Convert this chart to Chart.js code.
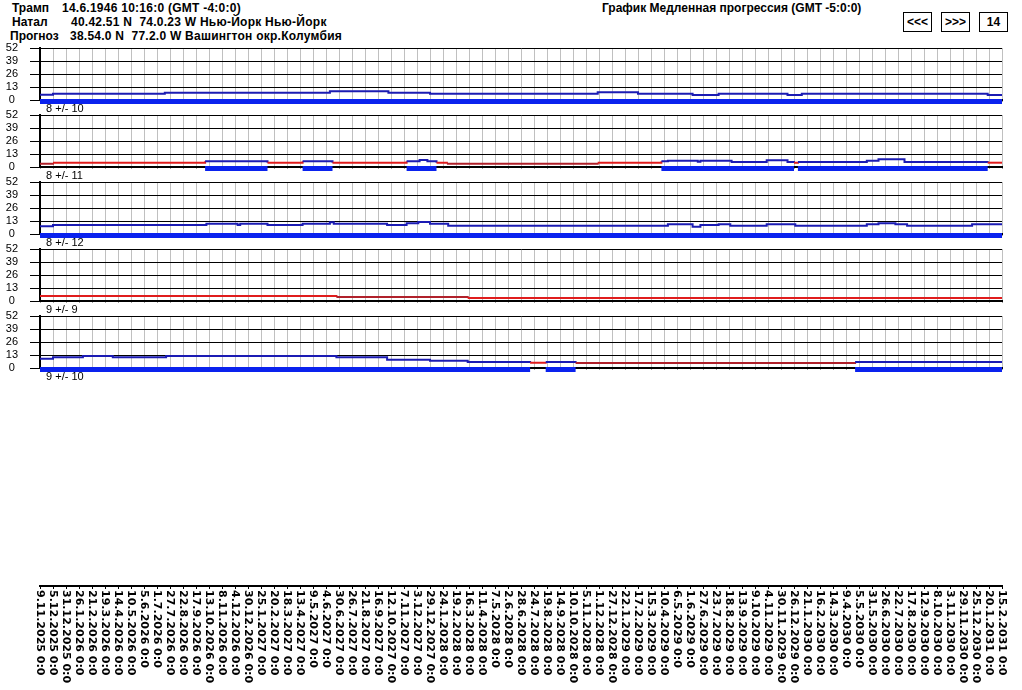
<!DOCTYPE html>
<html>
<head>
<meta charset="utf-8">
<script src="https://cdn.jsdelivr.net/npm/chart.js@4.4.1/dist/chart.umd.min.js"></script>
<style>
  body { margin: 0; background: #fff; }
  #page { position: relative; width: 1022px; height: 690px; overflow: hidden; font-family: "Liberation Sans", Arial, sans-serif; color: #000; }
  .hdr { position: absolute; font-weight: bold; font-size: 12px; line-height: 14px; white-space: pre; }
  .info { letter-spacing: 0.25px; }
  .btn { position: absolute; top: 12px; width: 27px; height: 18px; border: 1px solid #000; font-weight: bold; font-size: 12px; line-height: 18px; text-align: center; }
  canvas { position: absolute; left: 0; }
</style>
</head>
<body>
<div id="page">
  <div class="hdr" style="left:12px;top:1px">Трамп</div>
  <div class="hdr info" style="left:62px;top:1px">14.6.1946 10:16:0 (GMT -4:0:0)</div>
  <div class="hdr" style="left:12px;top:15px">Натал</div>
  <div class="hdr info" style="left:71px;top:15px">40.42.51 N  74.0.23 W Нью-Йорк Нью-Йорк</div>
  <div class="hdr" style="left:10px;top:29px">Прогноз</div>
  <div class="hdr info" style="left:70px;top:29px">38.54.0 N  77.2.0 W Вашингтон окр.Колумбия</div>
  <div class="hdr" style="left:602px;top:1px">График Медленная прогрессия (GMT -5:0:0)</div>
  <div class="btn" style="left:903px">&lt;&lt;&lt;</div>
  <div class="btn" style="left:941px">&gt;&gt;&gt;</div>
  <div class="btn" style="left:979px">14</div>
</div>
<script>
// x positions are in tick-index units (one step = 26 days, 0 = 9.11.2025)
const tickLabels = [
  '9.11.2025 0:0', '5.12.2025 0:0', '31.12.2025 0:0', '26.1.2026 0:0', '21.2.2026 0:0',
  '19.3.2026 0:0', '14.4.2026 0:0', '10.5.2026 0:0', '5.6.2026 0:0', '1.7.2026 0:0',
  '27.7.2026 0:0', '22.8.2026 0:0', '17.9.2026 0:0', '13.10.2026 0:0', '8.11.2026 0:0',
  '4.12.2026 0:0', '30.12.2026 0:0', '25.1.2027 0:0', '20.2.2027 0:0', '18.3.2027 0:0',
  '13.4.2027 0:0', '9.5.2027 0:0', '4.6.2027 0:0', '30.6.2027 0:0', '26.7.2027 0:0',
  '21.8.2027 0:0', '16.9.2027 0:0', '12.10.2027 0:0', '7.11.2027 0:0', '3.12.2027 0:0',
  '29.12.2027 0:0', '24.1.2028 0:0', '19.2.2028 0:0', '16.3.2028 0:0', '11.4.2028 0:0',
  '7.5.2028 0:0', '2.6.2028 0:0', '28.6.2028 0:0', '24.7.2028 0:0', '19.8.2028 0:0',
  '14.9.2028 0:0', '10.10.2028 0:0', '5.11.2028 0:0', '1.12.2028 0:0', '27.12.2028 0:0',
  '22.1.2029 0:0', '17.2.2029 0:0', '15.3.2029 0:0', '10.4.2029 0:0', '6.5.2029 0:0',
  '1.6.2029 0:0', '27.6.2029 0:0', '23.7.2029 0:0', '18.8.2029 0:0', '13.9.2029 0:0',
  '9.10.2029 0:0', '4.11.2029 0:0', '30.11.2029 0:0', '26.12.2029 0:0', '21.1.2030 0:0',
  '16.2.2030 0:0', '14.3.2030 0:0', '9.4.2030 0:0', '5.5.2030 0:0', '31.5.2030 0:0',
  '26.6.2030 0:0', '22.7.2030 0:0', '17.8.2030 0:0', '12.9.2030 0:0', '8.10.2030 0:0',
  '3.11.2030 0:0', '29.11.2030 0:0', '25.12.2030 0:0', '20.1.2031 0:0', '15.2.2031 0:0'
];
const yTicks = [0, 13, 26, 39, 52];
const panelTitles = ['8 +/- 10', '8 +/- 11', '8 +/- 12', '9 +/- 9', '9 +/- 10'];

// each point holds its value until the next point; state: b = blue, r = red, d = dark red
const p1X = [0, 1, 9.6, 22.3, 26.8, 30, 42.9, 46, 50.2, 52.2, 57.5, 58.6, 72.9, 74];
const p1Y = [5.3, 6.3, 7.3, 8.7, 7.3, 6.3, 7.7, 6.3, 5, 6.3, 5, 6.3, 5, 5];
const p1S = ['b', 'b', 'b', 'b', 'b', 'b', 'b', 'b', 'b', 'b', 'b', 'b', 'b', 'b'];

const p2X = [0, 1, 12.7, 17.5, 20.2, 22.5, 28.2, 29.2, 29.8, 30.5, 31.3, 42.9, 47.8, 48.3, 50.6, 50.8, 53.2, 55.9, 57.5, 58, 58.3, 63.6, 64.5, 66.5, 72.9, 74];
const p2Y = [3.3, 4.3, 5.7, 4.3, 5.7, 4.3, 5.7, 7, 5.7, 4.3, 3.3, 4.3, 5.7, 6.3, 5.3, 6.3, 5, 6.7, 5, 4.3, 5, 6.3, 7.7, 5, 4.3, 4.3];
const p2S = ['d', 'r', 'b', 'r', 'b', 'r', 'b', 'b', 'b', 'r', 'd', 'r', 'b', 'b', 'b', 'b', 'b', 'b', 'b', 'r', 'b', 'b', 'b', 'b', 'r', 'r'];

const p3X = [0, 1, 12.8, 15.2, 15.4, 17.5, 20.2, 22.3, 22.6, 26.7, 28.2, 29.1, 30, 31.4, 48.3, 50.2, 50.8, 52.2, 53.1, 55.9, 58.1, 63.6, 64.5, 65.8, 66.7, 71.7, 74];
const p3Y = [7.7, 9, 10.3, 9, 10.3, 9, 10.3, 11.7, 10.3, 9, 10.7, 12, 10.3, 8.3, 9.7, 7.3, 9, 9.7, 8.3, 9.7, 8.3, 9.7, 10.7, 9.7, 8.3, 9.7, 9.7];
const p3S = p3X.map(() => 'b');

const p4X = [0, 22.8, 32.9, 74];
const p4Y = [5, 4, 3, 3];
const p4S = ['r', 'd', 'r', 'r'];

const p5X = [0, 1, 3.3, 5.6, 9.7, 22.8, 26.7, 30, 32.9, 37.7, 38.9, 41.2, 62.7, 74];
const p5Y = [9.3, 10.7, 12, 10.7, 12, 10.7, 8.3, 7.3, 6, 5.3, 6, 5, 6, 6];
const p5S = ['b', 'b', 'b', 'b', 'b', 'b', 'b', 'b', 'b', 'r', 'b', 'd', 'b', 'b'];

const panels = [
  [p1X, p1Y, p1S], [p2X, p2Y, p2S], [p3X, p3Y, p3S], [p4X, p4Y, p4S], [p5X, p5Y, p5S]
];

const LINE_COLORS = { b: '#1b1bb3', r: '#e01c1c', d: '#b0202a' };
const BAND_COLOR = '#0a22ee';
const BAND_LEVEL = -1.5;   // thick marker just under the zero line where the state is blue
const FONT = '"Liberation Sans", Arial, sans-serif';

const page = document.getElementById('page');

function makePanel(idx, xs, ys, st) {
  const cv = document.createElement('canvas');
  cv.width = 1022;
  cv.height = 75;
  cv.style.top = (40 + 67 * idx) + 'px';
  page.appendChild(cv);

  const line = xs.map((x, i) => ({ x: x, y: ys[i] }));
  const band = xs.map(x => ({ x: x, y: BAND_LEVEL }));

  new Chart(cv, {
    type: 'line',
    data: {
      datasets: [
        {
          data: band, borderWidth: 5, borderCapStyle: 'butt', stepped: true,
          pointRadius: 0, clip: false, borderColor: BAND_COLOR,
          segment: { borderColor: c => st[c.p0DataIndex] === 'b' ? BAND_COLOR : 'rgba(0,0,0,0)' }
        },
        {
          data: line, borderWidth: 2, stepped: true, pointRadius: 0, clip: false,
          borderColor: LINE_COLORS.b,
          segment: { borderColor: c => LINE_COLORS[st[c.p0DataIndex]] }
        }
      ]
    },
    options: {
      responsive: false,
      animation: false,
      devicePixelRatio: 1,
      layout: { padding: { top: 8, right: 20, left: 0, bottom: 0 } },
      plugins: { legend: { display: false }, tooltip: { enabled: false } },
      scales: {
        x: {
          type: 'linear', min: 0, max: tickLabels.length - 1,
          ticks: { stepSize: 1, display: false },
          grid: { color: '#c0c0c0', tickLength: 2, tickColor: '#a0a0a0' },
          border: { color: '#000', width: 2 },
          title: {
            display: true, text: '  ' + panelTitles[idx], align: 'start', padding: 0, color: '#000',
            font: { family: FONT, size: 11, lineHeight: 13 / 11 }
          },
          afterFit: s => { s.height = 15; }
        },
        y: {
          min: yTicks[0], max: yTicks[yTicks.length - 1],
          afterBuildTicks: s => { s.ticks = yTicks.map(v => ({ value: v })); },
          ticks: { color: '#000', font: { family: FONT, size: 11 }, crossAlign: 'center', padding: 12, autoSkip: false },
          grid: { color: '#000', tickLength: 10 },
          border: { color: '#000', width: 2 },
          afterFit: s => { s.width = 40; s.paddingTop = 6; s.paddingBottom = 6; }
        }
      }
    }
  });
}

panels.forEach((p, i) => makePanel(i, p[0], p[1], p[2]));

// bottom date axis, labels read top to bottom
const dateLabels = {
  id: 'dateLabels',
  afterDraw(chart) {
    const xs = chart.scales.x;
    const ctx = chart.ctx;
    ctx.save();
    ctx.fillStyle = '#000';
    ctx.font = 'bold 11px "DejaVu Sans", sans-serif';
    ctx.textAlign = 'left';
    ctx.textBaseline = 'middle';
    tickLabels.forEach((lbl, i) => {
      ctx.save();
      ctx.translate(xs.getPixelForValue(i), xs.top + 4);
      ctx.rotate(Math.PI / 2);
      ctx.fillText(lbl, 0, 0);
      ctx.restore();
    });
    ctx.restore();
  }
};

const axCv = document.createElement('canvas');
axCv.width = 1022;
axCv.height = 130;
axCv.style.top = '560px';
page.appendChild(axCv);

new Chart(axCv, {
  type: 'line',
  data: { datasets: [] },
  options: {
    responsive: false,
    animation: false,
    devicePixelRatio: 1,
    layout: { padding: { top: 0, right: 20, left: 40, bottom: 0 } },
    plugins: { legend: { display: false }, tooltip: { enabled: false } },
    scales: {
      x: {
        type: 'linear', min: 0, max: tickLabels.length - 1,
        ticks: { stepSize: 1, display: false },
        grid: { drawOnChartArea: false, tickLength: 3, tickColor: '#000' },
        border: { color: '#000', width: 2 },
        afterFit: s => { s.height = 104; }
      },
      y: { display: false }
    }
  },
  plugins: [dateLabels]
});
</script>
</body>
</html>
